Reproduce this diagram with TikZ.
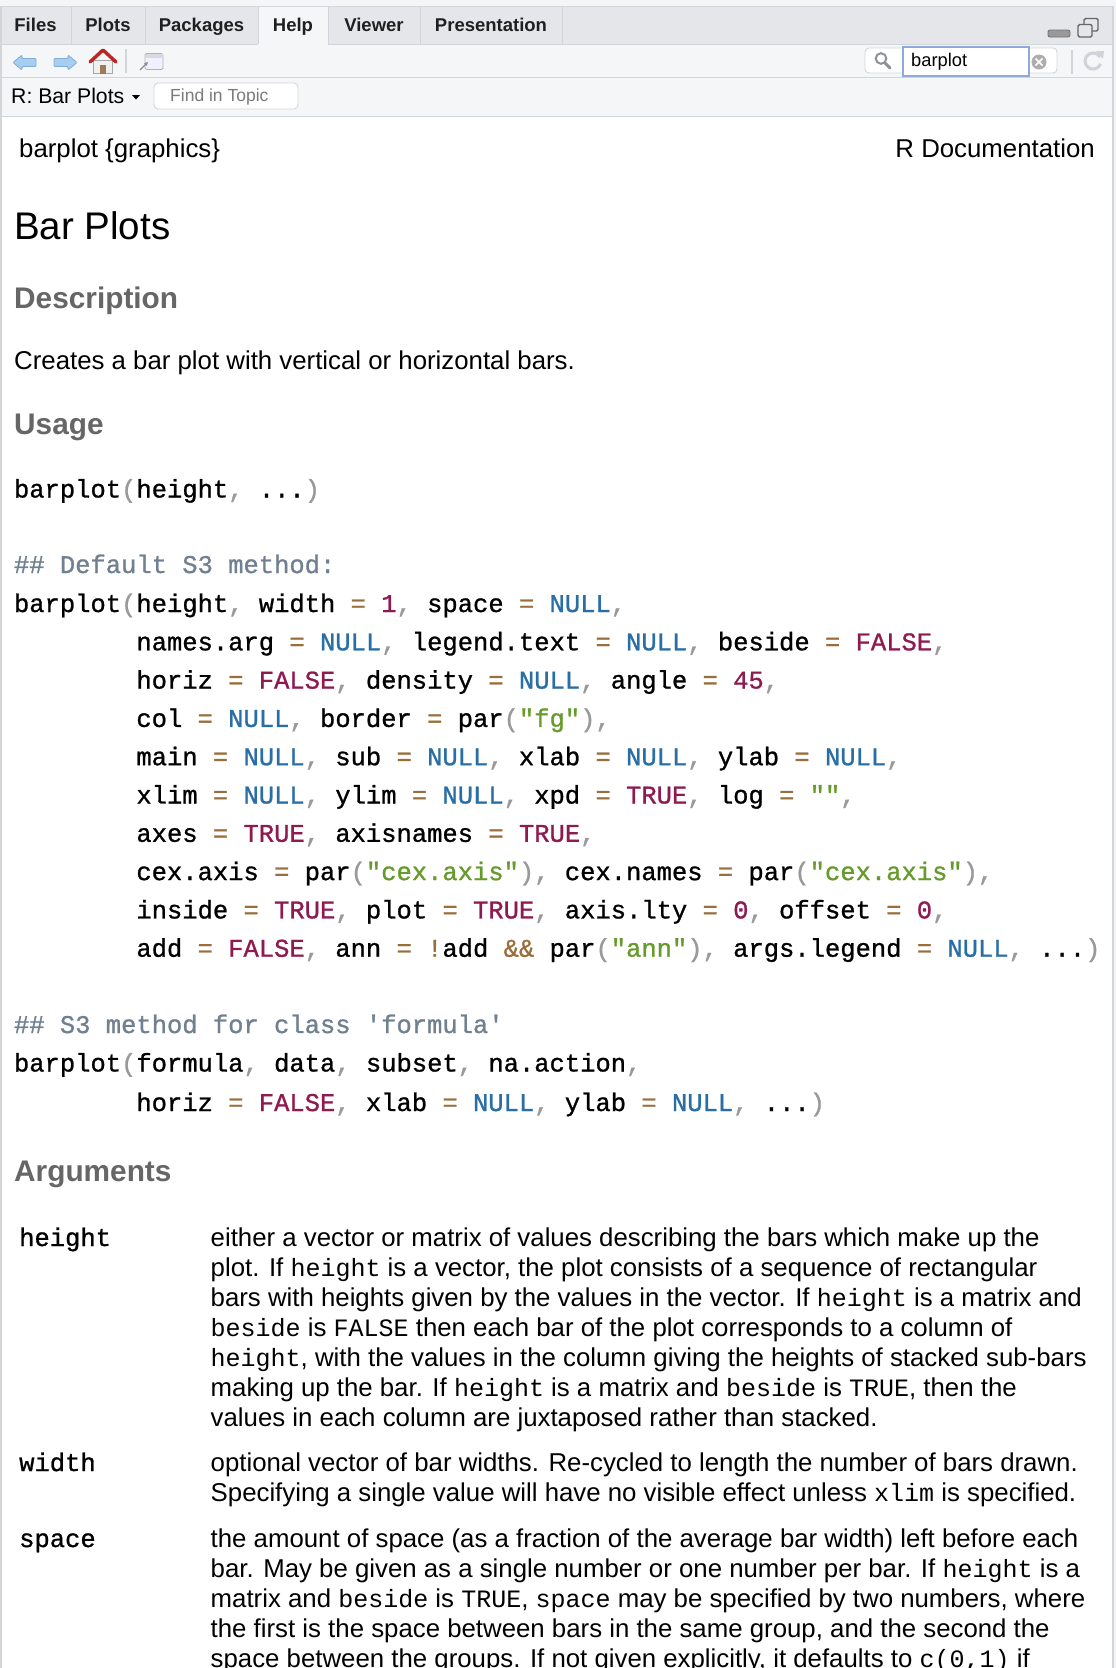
\documentclass[tikz,border=0pt]{standalone}
\usepackage{fontspec}
\setmainfont{Liberation Sans}
\setmonofont{Liberation Mono}[FakeBold=1.0]
\newfontfamily\rInlineFont{Liberation Mono}
\usetikzlibrary{arrows.meta}
\definecolor{pagebg}{HTML}{F4F5F7}
\definecolor{tabbar}{HTML}{E4E6E9}
\definecolor{tabact}{HTML}{F4F6F8}
\definecolor{toolbg}{HTML}{F4F6F8}
\definecolor{bordr}{HTML}{D3D6D9}
\definecolor{headgray}{HTML}{666666}
\definecolor{ccom}{HTML}{708090}
\definecolor{cpunc}{HTML}{999999}
\definecolor{copr}{HTML}{9A6E3A}
\definecolor{ckwd}{HTML}{2A6EA6}
\definecolor{cbool}{HTML}{8E1A50}
\definecolor{cstr}{HTML}{669A2A}
\definecolor{arrowfill}{HTML}{A9CDEE}
\definecolor{arrowline}{HTML}{7DAEDB}
\definecolor{iconsgray}{HTML}{8E9297}
\newcommand\rPn[1]{\textcolor{cpunc}{#1}}
\newcommand\rOp[1]{\textcolor{copr}{#1}}
\newcommand\rKw[1]{\textcolor{ckwd}{#1}}
\newcommand\rBo[1]{\textcolor{cbool}{#1}}
\newcommand\rSt[1]{\textcolor{cstr}{#1}}
\newcommand\rIc[1]{{\fontsize{25}{30}\rInlineFont #1}}
\begin{document}
\begin{tikzpicture}[x=1pt,y=-1pt,
  tab/.style={anchor=base, inner sep=0pt, font=\fontsize{18.5}{22}\selectfont\bfseries, text=black!88},
  txt/.style={anchor=base west, inner sep=0pt, font=\fontsize{25.8}{30}\selectfont},
  cd/.style={anchor=base west, inner sep=0pt, font=\fontsize{25.5}{30}\selectfont\ttfamily\frenchspacing},
  cmt/.style={cd, text=ccom},
  hd/.style={anchor=base west, inner sep=0pt, font=\fontsize{29.8}{34}\selectfont\bfseries, text=headgray},
  lbl/.style={anchor=base west, inner sep=0pt, font=\fontsize{25.5}{30}\selectfont\ttfamily},
  sep/.style={draw=bordr, line width=1.2pt},
  box/.style={draw=bordr, fill=white, rounded corners=3pt, line width=0.9pt}
]
\useasboundingbox (0,0) rectangle (1116,1668);
% backgrounds
\fill[pagebg] (0,0) rectangle (1116,1668);
\fill[tabbar] (0,6) rectangle (1113,44);
\fill[toolbg] (0,44) rectangle (1113,116);
\fill[white] (1,116) rectangle (1113,1668);
\draw[bordr, line width=1pt] (0,6) -- (1113,6);
\draw[bordr, line width=1pt] (0,44) -- (1113,44);
\draw[bordr, line width=1pt] (0,77) -- (1113,77);
\draw[bordr, line width=1pt] (0,116) -- (1113,116);
\draw[bordr, line width=1.2pt] (1,6) -- (1,1668);
\draw[bordr, line width=1.2pt] (1113,6) -- (1113,1668);
% tabs
\fill[tabact] (258,6.5) rectangle (328,44.6);
\foreach \xx in {71,145,258,328,420,562} \draw[bordr, line width=1pt] (\xx,6) -- (\xx,44);
\node[tab] (tFiles) at (35.5,31) {Files};
\node[tab] (tPlots) at (108,31) {Plots};
\node[tab] (tPack) at (201.5,31) {Packages};
\node[tab] (tHelp) at (293,31) {Help};
\node[tab] (tView) at (374,31) {Viewer};
\node[tab] (tPres) at (491,31) {Presentation};
% toolbar icons
\draw[arrowline, fill=arrowfill, line width=0.8pt, rounded corners=1pt]
  (13,62.5) -- (22,55) -- (22,58.5) -- (36,58.5) -- (36,66.5) -- (22,66.5) -- (22,70) -- cycle;
\draw[arrowline, fill=arrowfill, line width=0.8pt, rounded corners=1pt]
  (77,62.5) -- (68,55) -- (68,58.5) -- (54,58.5) -- (54,66.5) -- (68,66.5) -- (68,70) -- cycle;
\draw[fill=white!94!black, draw=black!35, line width=0.8pt] (93.5,60) rectangle (112.5,73.5);
\fill[brown!70!black!80] (100,64.5) rectangle (106,73.5);
\draw[red!70!black!85, line width=3.4pt, line cap=round, line join=round] (90,62) -- (103,50) -- (116,62);
\draw[sep] (126,49) -- (126,73);
\draw[draw=black!30, fill=blue!6, line width=0.9pt, rounded corners=1.5pt] (145,53.5) rectangle (163,69.5);
\fill[blue!18!black!15] (145.5,54) rectangle (162.5,57.5);
\draw[black!45, line width=1.1pt, -{Stealth[length=4pt,width=4pt]}] (140,70) -- (148,62);
% right controls
\draw[black!55, fill=black!40, line width=0.9pt, rounded corners=2pt] (1048,30) rectangle (1070,37);
\draw[black!60, line width=1.4pt, rounded corners=1.5pt] (1084,18.5) rectangle (1098,31);
\draw[black!60, fill=tabbar, line width=1.4pt, rounded corners=1.5pt] (1078,24.5) rectangle (1092,37);
\draw[box, rounded corners=4pt] (865,48) rectangle (1057,73);
\draw[iconsgray, line width=2pt] (881,58.5) circle (5.3pt);
\draw[iconsgray, line width=3pt, line cap=round] (885,63) -- (890,68);
\draw[draw={rgb,255:red,142;green,170;blue,220}, fill=white, line width=2pt] (903,47) rectangle (1029,76);
\node[anchor=west, inner sep=0pt, font=\fontsize{18.3}{22}\selectfont] (search) at (911,61.5) {barplot};
\fill[black!32] (1039,62) circle (7.5pt);
\draw[white, line width=1.6pt] (1035.5,58.5) -- (1042.5,65.5) (1035.5,65.5) -- (1042.5,58.5);
\draw[sep] (1072,50) -- (1072,74);
\draw[blue!15!black!18, line width=3pt] (1100,57) arc[start angle=30, end angle=340, radius=8pt];
\fill[blue!15!black!18] (1096,51) -- (1104,51) -- (1103,59) -- cycle;
% topic bar
\node[anchor=base west, inner sep=0pt, font=\fontsize{21.2}{25}\selectfont] (topic) at (11,103.5) {R: Bar Plots};
\fill[black] (132,95) -- (140,95) -- (136,99.5) -- cycle;
\draw[box, rounded corners=4pt] (154,83) rectangle (298,109);
\node[anchor=west, inner sep=0pt, font=\fontsize{17.5}{21}\selectfont, text=black!52] (find) at (170,96.5) {Find in Topic};
% page header
\node[txt] (pkg) at (19,157) {barplot \{graphics\}};
\node[txt, anchor=base east] (rdoc) at (1095,157) {R Documentation};
\node[anchor=base west, inner sep=0pt, font=\fontsize{38.5}{44}\selectfont] (title) at (14,239) {Bar Plots};
\node[hd] (hDesc) at (14,308) {Description};
\node[txt] (desc) at (14,369) {Creates a bar plot with vertical or horizontal bars.};
\node[hd] (hUsage) at (14,434) {Usage};
% usage code
\node[cd] (u0) at (13.8,497.5) {barplot\rPn{(}height\rPn{,} ...\rPn{)}};
\node[cmt] (c1) at (13.8,573) {\#\# Default S3 method:};
\node[cd] (u1) at (13.8,612) {barplot\rPn{(}height\rPn{,} width \rOp{=} \rBo{1}\rPn{,} space \rOp{=} \rKw{NULL}\rPn{,}};
\node[cd] (u2) at (136.2,650.3) {names.arg \rOp{=} \rKw{NULL}\rPn{,} legend.text \rOp{=} \rKw{NULL}\rPn{,} beside \rOp{=} \rBo{FALSE}\rPn{,}};
\node[cd] (u3) at (136.2,688.6) {horiz \rOp{=} \rBo{FALSE}\rPn{,} density \rOp{=} \rKw{NULL}\rPn{,} angle \rOp{=} \rBo{45}\rPn{,}};
\node[cd] (u4) at (136.2,726.9) {col \rOp{=} \rKw{NULL}\rPn{,} border \rOp{=} par\rPn{(}\rSt{"fg"}\rPn{),}};
\node[cd] (u5) at (136.2,765.2) {main \rOp{=} \rKw{NULL}\rPn{,} sub \rOp{=} \rKw{NULL}\rPn{,} xlab \rOp{=} \rKw{NULL}\rPn{,} ylab \rOp{=} \rKw{NULL}\rPn{,}};
\node[cd] (u6) at (136.2,803.5) {xlim \rOp{=} \rKw{NULL}\rPn{,} ylim \rOp{=} \rKw{NULL}\rPn{,} xpd \rOp{=} \rBo{TRUE}\rPn{,} log \rOp{=} \rSt{""}\rPn{,}};
\node[cd] (u7) at (136.2,841.8) {axes \rOp{=} \rBo{TRUE}\rPn{,} axisnames \rOp{=} \rBo{TRUE}\rPn{,}};
\node[cd] (u8) at (136.2,880.1) {cex.axis \rOp{=} par\rPn{(}\rSt{"cex.axis"}\rPn{),} cex.names \rOp{=} par\rPn{(}\rSt{"cex.axis"}\rPn{),}};
\node[cd] (u9) at (136.2,918.4) {inside \rOp{=} \rBo{TRUE}\rPn{,} plot \rOp{=} \rBo{TRUE}\rPn{,} axis.lty \rOp{=} \rBo{0}\rPn{,} offset \rOp{=} \rBo{0}\rPn{,}};
\node[cd] (u10) at (136.2,956.7) {add \rOp{=} \rBo{FALSE}\rPn{,} ann \rOp{=} \rOp{!}add \rOp{\&\&} par\rPn{(}\rSt{"ann"}\rPn{),} args.legend \rOp{=} \rKw{NULL}\rPn{,} ...\rPn{)}};
\node[cmt] (c2) at (13.8,1033) {\#\# S3 method for class 'formula'};
\node[cd] (u11) at (13.8,1071.5) {barplot\rPn{(}formula\rPn{,} data\rPn{,} subset\rPn{,} na.action\rPn{,}};
\node[cd] (u12) at (136.2,1111) {horiz \rOp{=} \rBo{FALSE}\rPn{,} xlab \rOp{=} \rKw{NULL}\rPn{,} ylab \rOp{=} \rKw{NULL}\rPn{,} ...\rPn{)}};
% arguments
\node[hd] (hArgs) at (14,1181) {Arguments};
\node[lbl] (aHeight) at (19,1246) {height};
\node[txt] (h1) at (210.5,1246) {either a vector or matrix of values describing the bars which make up the};
\node[txt] (h2) at (210.5,1276) {plot. If \rIc{height} is a vector, the plot consists of a sequence of rectangular};
\node[txt] (h3) at (210.5,1306) {bars with heights given by the values in the vector. If \rIc{height} is a matrix and};
\node[txt] (h4) at (210.5,1336) {\rIc{beside} is \rIc{FALSE} then each bar of the plot corresponds to a column of};
\node[txt] (h5) at (210.5,1366) {\rIc{height}, with the values in the column giving the heights of stacked sub-bars};
\node[txt] (h6) at (210.5,1396) {making up the bar. If \rIc{height} is a matrix and \rIc{beside} is \rIc{TRUE}, then the};
\node[txt] (h7) at (210.5,1426) {values in each column are juxtaposed rather than stacked.};
\node[lbl] (aWidth) at (19,1471) {width};
\node[txt] (w1) at (210.5,1471) {optional vector of bar widths. Re-cycled to length the number of bars drawn.};
\node[txt] (w2) at (210.5,1501) {Specifying a single value will have no visible effect unless \rIc{xlim} is specified.};
\node[lbl] (aSpace) at (19,1547) {space};
\node[txt] (s1) at (210.5,1547) {the amount of space (as a fraction of the average bar width) left before each};
\node[txt] (s2) at (210.5,1577) {bar. May be given as a single number or one number per bar. If \rIc{height} is a};
\node[txt] (s3) at (210.5,1607) {matrix and \rIc{beside} is \rIc{TRUE}, \rIc{space} may be specified by two numbers, where};
\node[txt] (s4) at (210.5,1637) {the first is the space between bars in the same group, and the second the};
\node[txt] (s5) at (210.5,1667) {space between the groups. If not given explicitly, it defaults to \rIc{c(0,1)} if};
\end{tikzpicture}
\end{document}
